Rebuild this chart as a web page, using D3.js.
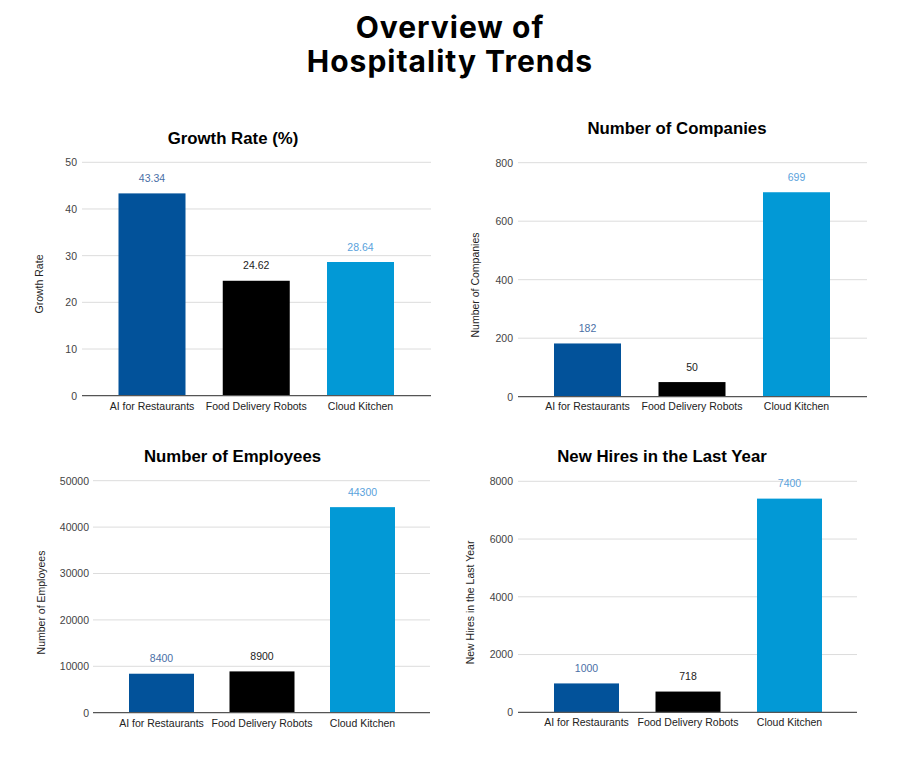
<!DOCTYPE html>
<html>
<head>
<meta charset="utf-8">
<script src="https://cdn.jsdelivr.net/npm/d3@7"></script>
<style>
  html, body { margin: 0; padding: 0; background: #fff; }
  svg { display: block; }
</style>
</head>
<body>
<svg id="chart" width="900" height="759"></svg>
<script>
// ---- Data ----
const categories = ["AI for Restaurants", "Food Delivery Robots", "Cloud Kitchen"];
const growthRate = [43.34, 24.62, 28.64];
const companies = [182, 50, 699];
const employees = [8400, 8900, 44300];
const newHires = [1000, 718, 7400];
const growthTicks = [0, 10, 20, 30, 40, 50];
const companyTicks = [0, 200, 400, 600, 800];
const employeeTicks = [0, 10000, 20000, 30000, 40000, 50000];
const hireTicks = [0, 2000, 4000, 6000, 8000];
const chartTitles = ["Growth Rate (%)", "Number of Companies", "Number of Employees", "New Hires in the Last Year"];
const axisTitles = ["Growth Rate", "Number of Companies", "Number of Employees", "New Hires in the Last Year"];
const mainTitle = ["Overview of", "Hospitality Trends"];

// ---- Styles ----
const barColors = ["#02529a", "#000000", "#0299d6"];
const labelColors = ["#4a6fa6", "#222222", "#5aa2dc"];

// ---- Layout (not data) ----
const panels = [
  { values: growthRate, ticks: growthTicks, title: chartTitles[0], ytitle: axisTitles[0],
    gx0: 82, gx1: 431, yTop: 162.3, yBot: 395.7, c0: 152, c2: 360.5, barW: 67,
    titleX: 233, titleY: 144, tickX: 77, axisX: 39, axisCY: 284, catY: 406 },
  { values: companies, ticks: companyTicks, title: chartTitles[1], ytitle: axisTitles[1],
    gx0: 518, gx1: 867, yTop: 162.7, yBot: 396.7, c0: 587.5, c2: 796.5, barW: 67,
    titleX: 677, titleY: 134, tickX: 513, axisX: 475, axisCY: 285, catY: 406.5 },
  { values: employees, ticks: employeeTicks, title: chartTitles[2], ytitle: axisTitles[2],
    gx0: 93, gx1: 430, yTop: 480.7, yBot: 712.7, c0: 161.5, c2: 362.5, barW: 65,
    titleX: 232.5, titleY: 461.5, tickX: 89, axisX: 41, axisCY: 602.5, catY: 723 },
  { values: newHires, ticks: hireTicks, title: chartTitles[3], ytitle: axisTitles[3],
    gx0: 518, gx1: 857, yTop: 481.3, yBot: 712.3, c0: 586.5, c2: 789.5, barW: 65,
    titleX: 662, titleY: 461.5, tickX: 513, axisX: 470, axisCY: 602.5, catY: 722.5 }
];

const svg = d3.select("#chart");
const FONT = "'Liberation Sans', Arial, Helvetica, sans-serif";
const SMALL = 10.5;

// Main title
svg.selectAll(".main-title").data(mainTitle).enter().append("text")
  .attr("x", 450).attr("y", (d, i) => 38 + i * 34)
  .attr("text-anchor", "middle")
  .attr("font-family", "Inter, 'Open Sans', sans-serif")
  .attr("font-weight", 700)
  .attr("font-size", 30)
  .attr("letter-spacing", 1)
  .attr("fill", "#000")
  .text(d => d);

panels.forEach(p => {
  const n = categories.length;
  const step = (p.c2 - p.c0) / (n - 1);
  const pad = 1 - p.barW / step;
  const x = d3.scaleBand()
    .domain(categories)
    .range([p.c0 - step / 2, p.c2 + step / 2])
    .paddingInner(pad)
    .paddingOuter(pad / 2);
  const yMax = p.ticks[p.ticks.length - 1];
  const y = d3.scaleLinear().domain([0, yMax]).range([p.yBot, p.yTop]);

  const g = svg.append("g");

  // gridlines
  g.selectAll(".grid").data(p.ticks.slice(1)).enter().append("line")
    .attr("x1", p.gx0).attr("x2", p.gx1)
    .attr("y1", d => y(d)).attr("y2", d => y(d))
    .attr("stroke", "#dcdcdc").attr("stroke-width", 1);

  // y tick labels via axis
  const yAxis = d3.axisLeft(y).tickValues(p.ticks).tickSize(0).tickPadding(0).tickFormat(d3.format("d"));
  const ya = g.append("g").attr("transform", `translate(${p.tickX},0)`).call(yAxis);
  ya.select(".domain").remove();
  ya.selectAll("text")
    .attr("font-family", FONT).attr("font-size", SMALL).attr("fill", "#444");

  // bars
  g.selectAll(".bar").data(p.values).enter().append("rect")
    .attr("x", (d, i) => x(categories[i]))
    .attr("width", x.bandwidth())
    .attr("y", d => y(d))
    .attr("height", d => y(0) - y(d))
    .attr("fill", (d, i) => barColors[i]);

  // baseline
  g.append("line")
    .attr("x1", p.gx0).attr("x2", p.gx1)
    .attr("y1", y(0)).attr("y2", y(0))
    .attr("stroke", "#555").attr("stroke-width", 1.2);

  // value labels
  g.selectAll(".val").data(p.values).enter().append("text")
    .attr("x", (d, i) => x(categories[i]) + x.bandwidth() / 2)
    .attr("y", d => y(d) - 11.5)
    .attr("text-anchor", "middle")
    .attr("font-family", FONT).attr("font-size", SMALL)
    .attr("fill", (d, i) => labelColors[i])
    .text(d => d);

  // x category labels via axis
  const xAxis = d3.axisBottom(x).tickSize(0).tickPadding(0);
  const xa = g.append("g").attr("transform", `translate(0,${p.catY})`).call(xAxis);
  xa.select(".domain").remove();
  xa.selectAll("text")
    .attr("font-family", FONT).attr("font-size", SMALL).attr("fill", "#222")
    .attr("dy", "0.35em");

  // chart title
  g.append("text")
    .attr("x", p.titleX).attr("y", p.titleY)
    .attr("text-anchor", "middle")
    .attr("font-family", FONT).attr("font-weight", "bold").attr("font-size", 16.8)
    .attr("fill", "#000")
    .text(p.title);

  // y axis title
  g.append("text")
    .attr("transform", `translate(${p.axisX + 4},${p.axisCY}) rotate(-90)`)
    .attr("text-anchor", "middle")
    .attr("font-family", FONT).attr("font-size", SMALL).attr("fill", "#222")
    .text(p.ytitle);
});
</script>
</body>
</html>
